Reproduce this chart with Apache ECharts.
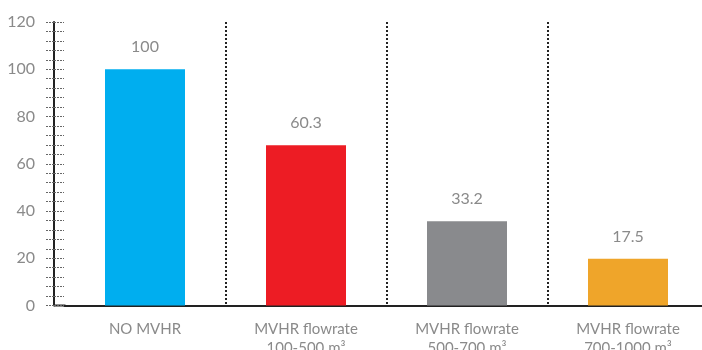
<!DOCTYPE html>
<html>
<head>
<meta charset="utf-8">
<script src="https://cdn.jsdelivr.net/npm/echarts@6/dist/echarts.min.js"></script>
<style>
html,body{margin:0;padding:0;background:#fff;}
#c{width:702px;height:350px;}
</style>
</head>
<body>
<div id="c"></div>
<script>
var categories = ['NO MVHR', 'MVHR flowrate\n100-500 m³', 'MVHR flowrate\n500-700 m³', 'MVHR flowrate\n700-1000 m³'];
var barValues = [100, 67.8, 35.7, 19.8];
var barLabels = ['100', '60.3', '33.2', '17.5'];
var barColors = ['#00AEEF', '#ED1C24', '#898A8D', '#EFA52A'];
var yTicks = [0, 20, 40, 60, 80, 100, 120];

var FONT = 'Lato, "Noto Sans", sans-serif';
var gridLeft = 64.5, axisX = 54, gridBottomY = 305.5;

var chart = echarts.init(document.getElementById('c'));
chart.setOption({
  animation: false,
  grid: {left: gridLeft, right: -6.5, top: 22, bottom: 350 - gridBottomY, containLabel: false, outerBoundsMode: 'none'},
  xAxis: {
    type: 'category',
    data: categories,
    axisLine: {show: true, lineStyle: {color: '#222', width: 2}},
    axisTick: {show: false},
    axisLabel: {color: '#8a8a8a', fontSize: 15, fontFamily: FONT, margin: 14, lineHeight: 19},
    splitLine: {
      show: true,
      interval: function (i) { return i > 0; },
      lineStyle: {color: '#222', width: 2, type: [2, 2]}
    }
  },
  yAxis: [{
    type: 'value',
    min: yTicks[0], max: yTicks[yTicks.length - 1], interval: 20,
    offset: gridLeft - axisX,
    axisLine: {show: true, lineStyle: {color: '#222', width: 2}},
    axisTick: {show: true, length: 9, lineStyle: {color: '#666', width: 1, type: [2, 1]}},
    minorTick: {show: true, splitNumber: 5, length: 9, lineStyle: {color: '#666', width: 1, type: [2, 1]}},
    axisLabel: {color: '#8a8a8a', fontSize: 16, fontFamily: FONT, margin: 19},
    splitLine: {show: false}
  }, {
    type: 'value',
    position: 'left',
    min: yTicks[0], max: yTicks[yTicks.length - 1], interval: 20,
    offset: gridLeft - axisX,
    axisLine: {show: false},
    axisTick: {show: true, inside: true, length: 10, lineStyle: {color: '#666', width: 1, type: [2, 1]}},
    minorTick: {show: true, splitNumber: 5, length: 10, lineStyle: {color: '#666', width: 1, type: [2, 1]}},
    axisLabel: {show: false},
    splitLine: {show: false}
  }],
  series: [{
    type: 'bar',
    barWidth: 80,
    data: barValues.map(function (v, i) {
      return {value: v, itemStyle: {color: barColors[i]}};
    }),
    label: {
      show: true,
      position: 'top',
      distance: 14,
      color: '#8a8a8a',
      fontSize: 16,
      fontFamily: FONT,
      formatter: function (p) { return barLabels[p.dataIndex]; }
    }
  }],
  graphic: [{
    type: 'line',
    shape: {x1: axisX, y1: gridBottomY, x2: gridLeft + 1, y2: gridBottomY},
    style: {stroke: '#222', lineWidth: 2}
  }]
});
</script>
</body>
</html>
